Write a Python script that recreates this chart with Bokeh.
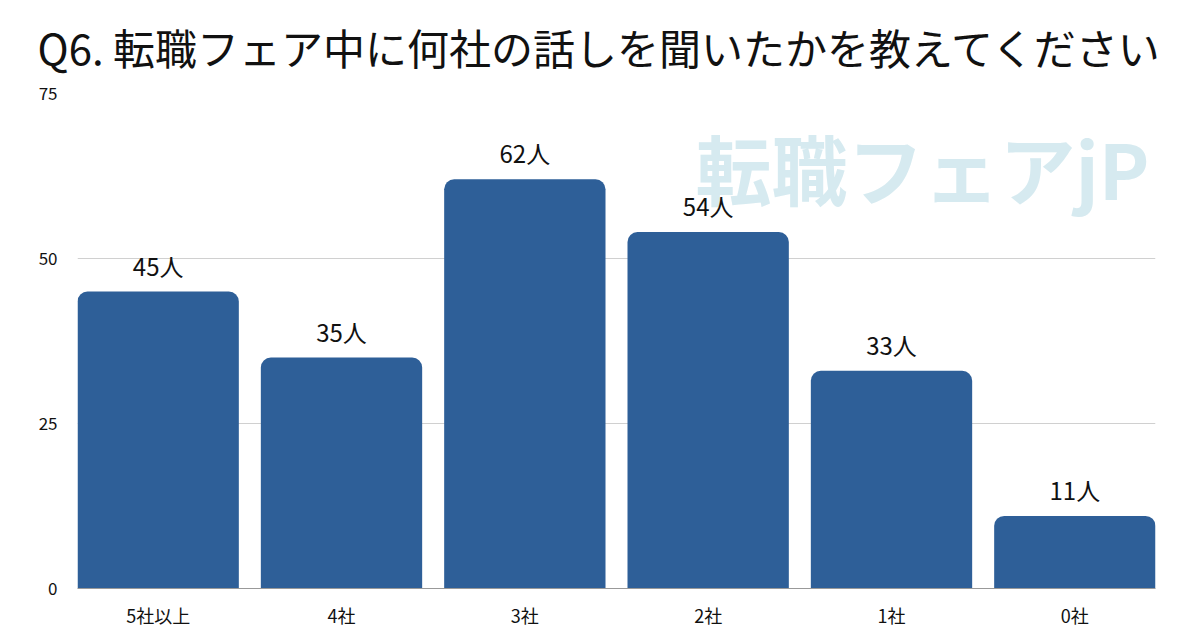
from bokeh.plotting import figure
from bokeh.models import ColumnDataSource, FixedTicker, Label, Range1d
from bokeh.core.properties import value
from bokeh.embed import file_html
from bokeh.resources import INLINE

title_text = "Q6. 転職フェア中に何社の話しを聞いたかを教えてください"
categories = ["5社以上", "4社", "3社", "2社", "1社", "0社"]
counts = [45, 35, 62, 54, 33, 11]
y_ticks = [0, 25, 50, 75]

FONT = "Noto Sans CJK JP"
BAR_COLOR = "#2E5F98"

xs = list(range(len(categories)))
src = ColumnDataSource(dict(
    x=xs, top=counts, cat=categories,
    label=[f"{v}人" for v in counts],
))

p = figure(width=1200, height=630, output_backend="svg", toolbar_location=None,
           x_range=Range1d(-0.44, len(categories) - 0.56), y_range=Range1d(0, 75),
           min_border_left=77, min_border_right=45, min_border_top=93, min_border_bottom=42)
p.outline_line_color = None
p.background_fill_color = "white"
p.border_fill_color = "white"

p.title.text = title_text
p.title.text_font = FONT
p.title.text_font_size = "42px"
p.title.text_font_style = "normal"
p.title.text_color = "#111111"
p.title.align = "left"
p.title.vertical_align = "top"
p.title.offset = -40
p.title.standoff = 29

p.vbar(x="x", top="top", bottom=0, width=0.88, source=src,
       fill_color=BAR_COLOR, line_color=None,
       border_radius=(10, 10, 0, 0))

p.text(x="x", y="top", text="label", source=src, text_align="center",
       text_baseline="bottom", y_offset=-9, text_font=value(FONT),
       text_font_size="24px", text_color="#111111")

# axes
p.yaxis.ticker = FixedTicker(ticks=y_ticks)
p.yaxis.axis_line_color = None
p.yaxis.major_tick_line_color = None
p.yaxis.minor_tick_line_color = None
p.yaxis.major_label_text_font = FONT
p.yaxis.major_label_text_font_size = "17px"
p.yaxis.major_label_text_color = "#111111"
p.yaxis.major_label_standoff = 14

p.xaxis.ticker = FixedTicker(ticks=xs)
p.xaxis.major_label_overrides = {i: c for i, c in zip(xs, categories)}
p.xaxis.axis_line_color = "#999999"
p.xaxis.axis_line_width = 1
p.xaxis.major_tick_line_color = None
p.xaxis.minor_tick_line_color = None
p.xaxis.major_label_text_font = FONT
p.xaxis.major_label_text_font_size = "18px"
p.xaxis.major_label_text_color = "#111111"
p.xaxis.major_label_standoff = 7

p.xgrid.grid_line_color = None
p.ygrid.grid_line_color = "#D0D0D0"
p.ygrid.grid_line_width = 1

# watermark
wm = Label(x=618, y=422, x_units="screen", y_units="screen", text="転職フェアjP",
           text_font=FONT, text_font_size="76px", text_font_style="bold",
           text_color="#D6EAF0", text_baseline="middle", text_align="left",
           level="underlay")
p.add_layout(wm)

open("out.html", "w").write(file_html(p, INLINE))
